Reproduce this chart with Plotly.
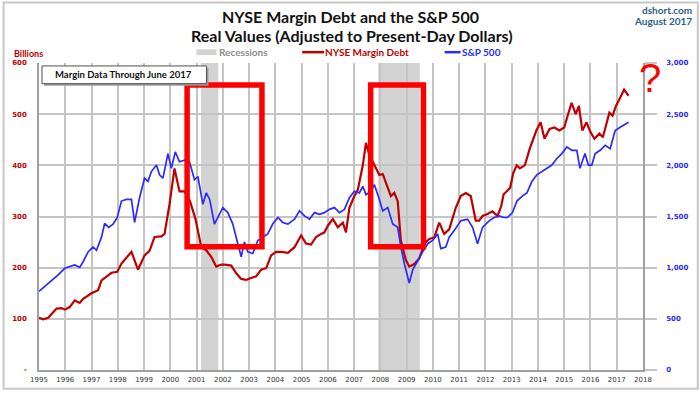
import plotly.graph_objects as go

# ---------------- data ----------------
margin_years = [1995.00, 1995.16, 1995.35, 1995.67, 1995.86, 1995.98, 1996.17, 1996.36, 1996.55, 1996.68,
                1997.00, 1997.25, 1997.38, 1997.76, 1997.98, 1998.14, 1998.52, 1998.77, 1999.02, 1999.21,
                1999.40, 1999.66, 1999.78, 1999.97, 2000.16, 2000.35, 2000.54, 2000.75, 2000.96, 2001.18,
                2001.37, 2001.56, 2001.75, 2001.94, 2002.07, 2002.32, 2002.51, 2002.70, 2002.89, 2003.02,
                2003.27, 2003.46, 2003.65, 2003.84, 2004.03, 2004.22, 2004.48, 2004.73, 2004.98, 2005.17,
                2005.36, 2005.55, 2005.74, 2005.87, 2006.00, 2006.19, 2006.38, 2006.57, 2006.69, 2006.82,
                2007.01, 2007.14, 2007.33, 2007.45, 2007.58, 2007.77, 2007.96, 2008.09, 2008.21, 2008.40,
                2008.53, 2008.66, 2008.78, 2008.97, 2009.10, 2009.29, 2009.48, 2009.67, 2009.86, 2010.05,
                2010.24, 2010.43, 2010.62, 2010.87, 2011.06, 2011.25, 2011.44, 2011.63, 2011.76, 2011.89,
                2012.08, 2012.27, 2012.46, 2012.60, 2012.69, 2012.94, 2013.06, 2013.19, 2013.31, 2013.50,
                2013.69, 2013.94, 2014.10, 2014.25, 2014.44, 2014.63, 2014.81, 2015.00, 2015.13, 2015.28,
                2015.44, 2015.56, 2015.69, 2015.85, 2016.00, 2016.15, 2016.34, 2016.47, 2016.59, 2016.72,
                2016.84, 2016.97, 2017.13, 2017.28, 2017.45]
margin_values = [102, 99, 102, 120, 121, 118, 123, 136, 131, 139,
                 150, 156, 175, 190, 192, 208, 231, 196, 224, 233,
                 260, 261, 266, 324, 394, 349, 349, 330, 295, 240,
                 234, 221, 202, 206, 206, 204, 189, 178, 176, 179,
                 183, 196, 199, 224, 231, 231, 229, 240, 263, 247,
                 245, 260, 266, 269, 282, 295, 279, 288, 269, 317,
                 340, 352, 400, 444, 420, 400, 381, 383, 365, 340,
                 346, 330, 253, 215, 202, 207, 218, 247, 256, 259,
                 288, 266, 275, 317, 340, 346, 340, 292, 292, 301,
                 305, 310, 301, 320, 343, 356, 385, 400, 394, 400,
                 433, 468, 484, 452, 471, 474, 468, 474, 497, 522,
                 500, 516, 468, 484, 465, 452, 462, 455, 478, 503,
                 497, 516, 532, 548, 536]

sp_years = [1995.00, 1995.22, 1995.48, 1995.73, 1995.98, 1996.17, 1996.36, 1996.55, 1996.68, 1996.87,
            1997.06, 1997.19, 1997.38, 1997.50, 1997.65, 1997.82, 1997.98, 1998.14, 1998.33, 1998.52,
            1998.64, 1998.83, 1999.02, 1999.15, 1999.28, 1999.47, 1999.59, 1999.72, 1999.91, 2000.04,
            2000.19, 2000.35, 2000.54, 2000.73, 2000.82, 2000.92, 2001.05, 2001.24, 2001.37, 2001.50,
            2001.68, 2001.87, 2002.00, 2002.19, 2002.38, 2002.57, 2002.70, 2002.82, 2002.95, 2003.14,
            2003.33, 2003.52, 2003.71, 2003.90, 2004.10, 2004.28, 2004.48, 2004.73, 2004.92, 2005.11,
            2005.30, 2005.49, 2005.68, 2005.87, 2006.06, 2006.25, 2006.44, 2006.63, 2006.82, 2007.01,
            2007.20, 2007.33, 2007.45, 2007.64, 2007.77, 2007.90, 2008.09, 2008.28, 2008.47, 2008.66,
            2008.78, 2008.91, 2009.10, 2009.23, 2009.42, 2009.61, 2009.80, 2009.99, 2010.18, 2010.30,
            2010.49, 2010.62, 2010.81, 2011.06, 2011.32, 2011.51, 2011.70, 2011.89, 2012.14, 2012.33,
            2012.52, 2012.71, 2012.83, 2013.03, 2013.20, 2013.40, 2013.58, 2013.77, 2013.96, 2014.15,
            2014.34, 2014.53, 2014.72, 2014.91, 2015.10, 2015.29, 2015.48, 2015.60, 2015.79, 2015.92,
            2016.05, 2016.18, 2016.37, 2016.56, 2016.75, 2016.94, 2017.13, 2017.32, 2017.45]
sp_values = [769, 817, 881, 929, 994, 1010, 1026, 1003, 1058, 1154,
             1202, 1170, 1298, 1432, 1394, 1426, 1490, 1651, 1667, 1667,
             1442, 1683, 1875, 1843, 1939, 2003, 1907, 1875, 2115, 1971,
             2131, 2035, 2051, 2035, 1960, 1859, 1891, 1619, 1731, 1667,
             1426, 1522, 1586, 1538, 1426, 1234, 1106, 1250, 1154, 1138,
             1266, 1298, 1330, 1426, 1490, 1442, 1426, 1474, 1555, 1506,
             1474, 1538, 1522, 1538, 1570, 1587, 1538, 1570, 1683, 1747,
             1731, 1795, 1714, 1747, 1811, 1714, 1555, 1587, 1426, 1394,
             1202, 1041, 849, 978, 1074, 1154, 1234, 1266, 1330, 1186,
             1202, 1298, 1362, 1458, 1474, 1394, 1234, 1394, 1458, 1490,
             1506, 1490, 1490, 1538, 1651, 1699, 1731, 1843, 1907, 1939,
             1971, 2003, 2067, 2115, 2180, 2147, 2147, 1971, 2115, 2003,
             2003, 2115, 2147, 2195, 2163, 2339, 2372, 2404, 2420]

recession_starts = [2001.17, 2007.92]
recession_ends = [2001.83, 2009.50]

highlight_x0 = [2000.64, 2007.63]
highlight_x1 = [2003.49, 2009.64]
highlight_y0 = [241, 241]
highlight_y1 = [557, 557]

year_ticks = list(range(1995, 2019))
left_ticks = [0, 100, 200, 300, 400, 500, 600]
left_labels = ["-", "100", "200", "300", "400", "500", "600"]
right_ticks = [0, 500, 1000, 1500, 2000, 2500, 3000]
right_labels = ["0", "500", "1,000", "1,500", "2,000", "2,500", "3,000"]

# ---------------- layout helpers ----------------
W, H = 700, 396
ML, MR, MT, MB = 37, 57, 63, 21
PW, PH = W - ML - MR, H - MT - MB


def px(xp):
    return (xp - ML) / PW


def py(yp):
    return (H - MB - yp) / PH


RED = "#c00000"
BLUE = "#2b2bff"
GRID = "#c4c4c4"

fig = go.Figure()
fig.add_trace(go.Scatter(x=margin_years, y=margin_values, mode="lines", name="NYSE Margin Debt",
                         line=dict(color=RED, width=2.2), yaxis="y", showlegend=False))
fig.add_trace(go.Scatter(x=sp_years, y=sp_values, mode="lines", name="S&P 500",
                         line=dict(color=BLUE, width=1.7), yaxis="y2", showlegend=False))

shapes = []
for s, e in zip(recession_starts, recession_ends):
    shapes.append(dict(type="rect", xref="x", yref="paper", x0=s, x1=e, y0=0, y1=1,
                       fillcolor="#d3d3d3", line=dict(width=0), layer="below"))
for a, b, c, d in zip(highlight_x0, highlight_x1, highlight_y0, highlight_y1):
    shapes.append(dict(type="rect", xref="x", yref="y", x0=a, x1=b, y0=c, y1=d,
                       line=dict(color="#ff0000", width=5.5), layer="above"))

# outer frame
shapes.append(dict(type="rect", xref="paper", yref="paper", x0=px(1.5), x1=px(698), y0=py(394), y1=py(1.5),
                   line=dict(color="#c8c8c8", width=2)))
# note box with shadow
shapes.append(dict(type="rect", xref="paper", yref="paper", x0=px(42), x1=px(207), y0=py(86), y1=py(68),
                   fillcolor="#9a9a9a", line=dict(width=0)))
shapes.append(dict(type="rect", xref="paper", yref="paper", x0=px(40), x1=px(205), y0=py(84), y1=py(66),
                   fillcolor="white", line=dict(color="#505050", width=1)))
# legend glyphs
shapes.append(dict(type="rect", xref="paper", yref="paper", x0=px(195), x1=px(215), y0=py(55), y1=py(49),
                   fillcolor="#d3d3d3", line=dict(width=0)))
shapes.append(dict(type="line", xref="paper", yref="paper", x0=px(301), x1=px(323), y0=py(52), y1=py(52),
                   line=dict(color=RED, width=2.5)))
shapes.append(dict(type="line", xref="paper", yref="paper", x0=px(444), x1=px(460), y0=py(52), y1=py(52),
                   line=dict(color=BLUE, width=2.5)))

TF = "Lato"
annotations = [
    dict(text="<b>NYSE Margin Debt and the S&P 500</b>", x=px(350), y=py(15.5), xref="paper", yref="paper",
         showarrow=False, font=dict(family=TF, size=16, color="#111111"), xanchor="center", yanchor="middle"),
    dict(text="<b>Real Values (Adjusted to Present-Day Dollars)</b>", x=px(351), y=py(35.5), xref="paper",
         yref="paper", showarrow=False, font=dict(family=TF, size=16, color="#111111"),
         xanchor="center", yanchor="middle"),
    dict(text="<b>Recessions</b>", x=px(216), y=py(52), xref="paper", yref="paper", showarrow=False,
         font=dict(family=TF, size=10, color="#8c8c8c"), xanchor="left", yanchor="middle"),
    dict(text="<b>NYSE Margin Debt</b>", x=px(322), y=py(52), xref="paper", yref="paper", showarrow=False,
         font=dict(family=TF, size=10, color=RED), xanchor="left", yanchor="middle"),
    dict(text="<b>S&P 500</b>", x=px(459), y=py(52), xref="paper", yref="paper", showarrow=False,
         font=dict(family=TF, size=10, color=BLUE), xanchor="left", yanchor="middle"),
    dict(text="<b>Billions</b>", x=px(26), y=py(53.5), xref="paper", yref="paper", showarrow=False,
         font=dict(family=TF, size=9, color=RED), xanchor="center", yanchor="middle"),
    dict(text="<b>Margin Data Through June 2017</b>", x=px(122), y=py(75), xref="paper", yref="paper",
         showarrow=False, font=dict(family=TF, size=9.5, color="#111111"), xanchor="center", yanchor="middle"),
    dict(text="<b>dshort.com</b>", x=px(694), y=py(9), xref="paper", yref="paper", showarrow=False,
         font=dict(family=TF, size=10, color="#2f5d8c"), xanchor="right", yanchor="middle"),
    dict(text="<b>August 2017</b>", x=px(694), y=py(20), xref="paper", yref="paper", showarrow=False,
         font=dict(family=TF, size=10, color="#2f5d8c"), xanchor="right", yanchor="middle"),
    dict(text="?", x=px(650), y=py(78), xref="paper", yref="paper", showarrow=False,
         font=dict(family="Liberation Sans", size=40, color="#ff0000"), xanchor="center", yanchor="middle"),
]

fig.update_layout(
    width=W, height=H,
    margin=dict(l=ML, r=MR, t=MT, b=MB, pad=0),
    paper_bgcolor="white", plot_bgcolor="white",
    shapes=shapes, annotations=annotations, showlegend=False,
    xaxis=dict(range=[1995, 2018], tickmode="array", tickvals=year_ticks, ticktext=[str(y) for y in year_ticks],
               showgrid=True, gridcolor=GRID, gridwidth=1.5, zeroline=False,
               showline=True, linecolor="#a0a0a0", linewidth=1.5, ticks="",
               tickfont=dict(family="DejaVu Sans", size=7, color="#333333"), ticklabelstandoff=2),
    yaxis=dict(range=[0, 600], tickmode="array", tickvals=left_ticks, ticktext=left_labels,
               showgrid=True, gridcolor=GRID, gridwidth=1.5, zeroline=False,
               showline=True, linecolor="#a0a0a0", linewidth=1.5, ticks="",
               tickfont=dict(family="DejaVu Sans", size=7, color=RED, weight="bold"), ticklabelstandoff=9),
    yaxis2=dict(range=[0, 3000], overlaying="y", side="right", tickmode="array", tickvals=right_ticks,
                ticktext=right_labels, showgrid=False, zeroline=False,
                showline=True, linecolor="#a0a0a0", linewidth=1.5, ticks="outside", ticklen=12,
                tickcolor=GRID, tickwidth=1.5,
                tickfont=dict(family="DejaVu Sans", size=7, color=BLUE, weight="bold"), ticklabelstandoff=8),
)

fig.write_html("out.html", config={"displayModeBar": False},
               post_script="document.body.style.margin='0px';")
